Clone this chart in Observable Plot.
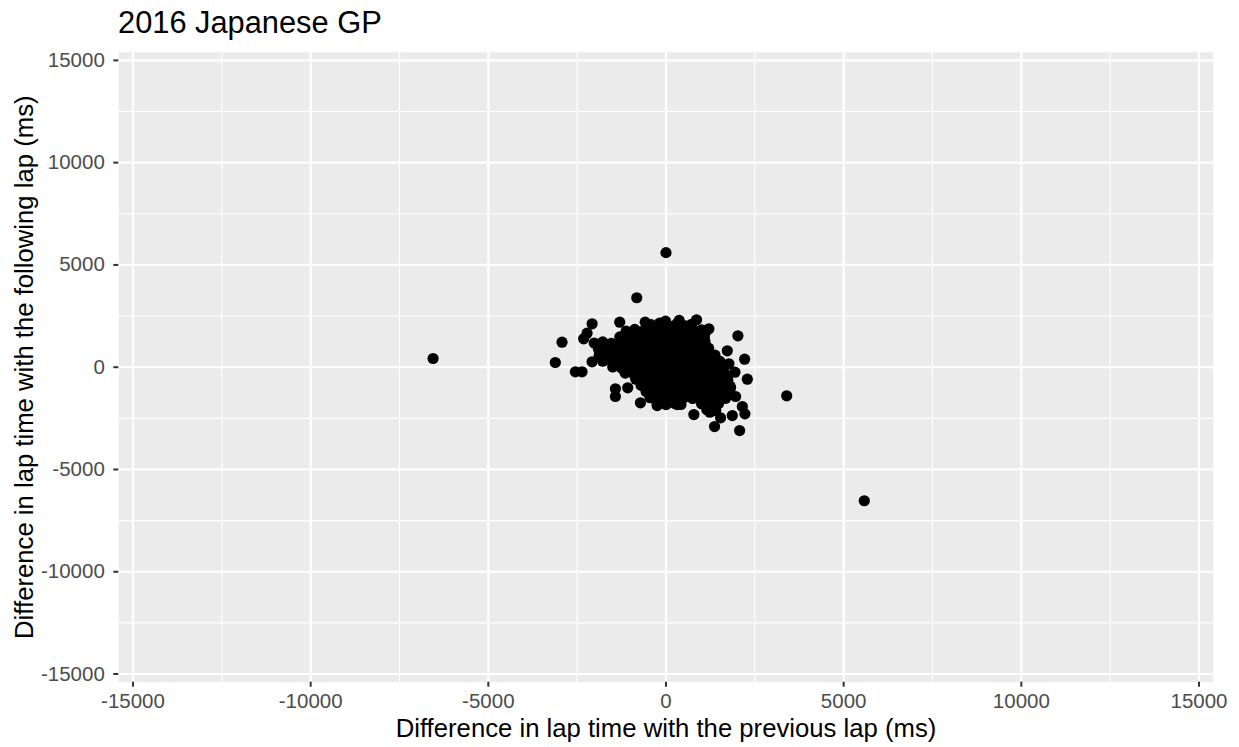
<!DOCTYPE html>
<html><head><meta charset="utf-8">
<script src="https://cdn.jsdelivr.net/npm/d3@7"></script>
<script src="https://cdn.jsdelivr.net/npm/@observablehq/plot@0.6"></script>
<style>
body{margin:0;background:#fff;font-family:"Liberation Sans",Arial,sans-serif;}
#title{height:46px;line-height:46px;font-size:30.8px;padding-left:118px;color:#000;white-space:nowrap;}
</style></head><body>
<div id="title"></div>
<div id="chart"></div>
<script>
const titleText = "2016 Japanese GP";
const xLabel = "Difference in lap time with the previous lap (ms)";
const yLabel = "Difference in lap time with the following lap (ms)";
const majorTicks = [-15000, -10000, -5000, 0, 5000, 10000, 15000];
const minorTicks = [-12500, -7500, -2500, 2500, 7500, 12500];

// isolated laps [prev diff, next diff]
const outliers = [
  [-6555,425],[0,5600],[5580,-6530],[3397,-1399],[-823,3395],[-2926,1223],[-3115,230],
  [-2080,2123],[-2222,1663],[-2317,1389],[-1302,2201],[-586,2201],[-2551,-225],[-2363,-225],
  [-2080,264],[-1424,-1057],[-1424,-1433],[-1077,-1008],[-719,-1742],[-248,-1874],[315,-1825],
  [784,-2314],[1235,-2201],[1367,-2901],[1536,-2475],[2072,-3097],[1866,-2363],[2221,-2280],
  [2148,-1923],[2289,-587],[2213,391],[2024,1536],[1725,802],[1771,166],[1940,-245],
  [1818,-1008],[1959,-1433],[860,2319],[1207,1879],[1114,1712],[1066,1223],[371,2285],[-14,2250]
];

// dense core of laps [prev diff, next diff]
const core = [
  [-420,2080],[-180,2150],[60,2050],[300,2120],[540,2020],[720,2100],
  [-1120,1760],[-880,1850],[-640,1780],[-400,1830],[-150,1760],[90,1850],[330,1790],[570,1840],[810,1770],[1000,1820],
  [-1300,1480],[-1060,1530],[-820,1450],[-570,1520],[-330,1470],[-80,1540],[170,1460],[410,1520],[660,1450],[900,1510],[1080,1440],
  [-2020,1180],[-1780,1240],[-1540,1160],[-1300,1230],[-1060,1170],[-820,1250],[-580,1190],[-330,1230],[-90,1160],[150,1240],[390,1180],[640,1220],[880,1150],[1100,1230],
  [-1900,880],[-1660,940],[-1420,860],[-1180,920],[-940,870],[-700,950],[-460,890],[-220,930],[20,860],[260,940],[500,880],[740,920],[980,860],[1200,930],
  [-1880,590],[-1640,640],[-1400,570],[-1160,620],[-920,560],[-680,640],[-440,580],[-200,630],[40,570],[280,640],[520,580],[760,620],[1000,560],[1240,630],[1380,590],
  [-1780,290],[-1540,330],[-1300,270],[-1060,320],[-820,260],[-580,340],[-340,280],[-100,320],[140,270],[380,330],[620,280],[860,320],[1100,260],[1340,320],[1520,280],
  [-1500,10],[-1260,-30],[-1020,40],[-780,-20],[-540,30],[-300,-40],[-60,20],[180,-30],[420,40],[660,-20],[900,30],[1140,-40],[1380,10],[1560,-30],
  [-1150,-290],[-910,-330],[-670,-270],[-430,-320],[-190,-280],[50,-340],[290,-290],[530,-320],[770,-270],[1010,-330],[1250,-280],[1490,-320],[1650,-290],
  [-850,-590],[-610,-640],[-370,-580],[-130,-620],[110,-570],[350,-640],[590,-590],[830,-620],[1070,-580],[1310,-630],[1550,-590],[1740,-620],
  [-700,-890],[-460,-930],[-220,-870],[20,-920],[260,-880],[500,-940],[740,-890],[980,-920],[1220,-870],[1460,-930],[1680,-880],[1800,-920],
  [-560,-1190],[-320,-1230],[-80,-1170],[160,-1220],[400,-1180],[640,-1240],[880,-1190],[1120,-1220],[1360,-1170],[1600,-1230],[1780,-1190],
  [-450,-1490],[-210,-1530],[30,-1470],[270,-1520],[510,-1480],[750,-1530],[990,-1470],[1230,-1520],[1470,-1480],[1680,-1520],
  [-250,-1790],[0,-1830],[250,-1780],[420,-1820],[1000,-1790],[1240,-1830],[1480,-1780],
  [1150,-2080],[1400,-2120]
];

document.getElementById("title").textContent = titleText;
const laps = outliers.concat(core).map(([prev, next]) => ({prev, next}));
const fmt = d => String(d);
const font = "Liberation Sans, Arial, sans-serif";

const chart = Plot.plot({
  width: 1239, height: 701,
  marginTop: 5.7, marginBottom: 65.3, marginLeft: 118.3, marginRight: 26.3,
  x: {domain: [-15400, 15400]},
  y: {domain: [-15400, 15400]},
  style: {fontFamily: font, background: "#fff", overflow: "visible"},
  marks: [
    Plot.frame({fill: "#EBEBEB", stroke: null}),
    Plot.ruleX(minorTicks, {stroke: "#fff", strokeWidth: 1.1}),
    Plot.ruleY(minorTicks, {stroke: "#fff", strokeWidth: 1.1}),
    Plot.ruleX(majorTicks, {stroke: "#fff", strokeWidth: 2.2}),
    Plot.ruleY(majorTicks, {stroke: "#fff", strokeWidth: 2.2}),
    Plot.axisX(majorTicks, {tickSize: 5, tickPadding: 6, tickFormat: fmt, fontSize: 20.5, fill: "#4d4d4d", stroke: "#333", strokeWidth: 2, label: null}),
    Plot.axisY(majorTicks, {tickSize: 5, tickPadding: 9, tickFormat: fmt, fontSize: 20.5, fill: "#4d4d4d", stroke: "#333", strokeWidth: 2, label: null}),
    Plot.dot(laps, {x: "prev", y: "next", r: 5.6, fill: "#000", stroke: null}),
    Plot.text([xLabel], {frameAnchor: "bottom", lineAnchor: "bottom", textAnchor: "middle", dy: 55, fontSize: 25.7, fill: "#000"}),
    Plot.text([yLabel], {frameAnchor: "left", lineAnchor: "bottom", textAnchor: "middle", rotate: -90, dx: -86, fontSize: 25.7, fill: "#000"})
  ]
});
document.getElementById("chart").appendChild(chart);
</script></body></html>
